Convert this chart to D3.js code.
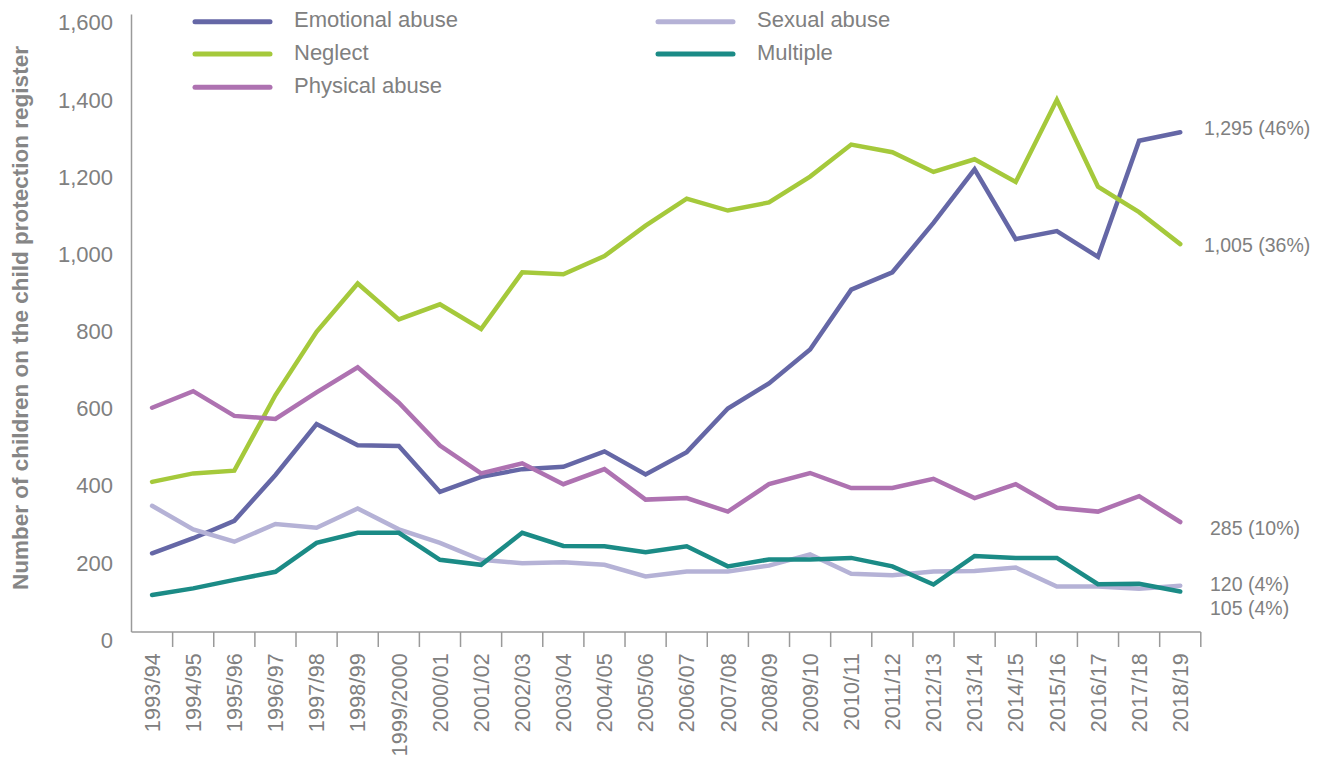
<!DOCTYPE html>
<html>
<head>
<meta charset="utf-8">
<script src="https://cdn.jsdelivr.net/npm/d3@7"></script>
<style>
  body { margin: 0; background: #fff; }
  svg { display: block; }
</style>
</head>
<body>
<div id="chart"></div>
<script>
const years = ["1993/94", "1994/95", "1995/96", "1996/97", "1997/98", "1998/99", "1999/2000",
  "2000/01", "2001/02", "2002/03", "2003/04", "2004/05", "2005/06", "2006/07", "2007/08",
  "2008/09", "2009/10", "2010/11", "2011/12", "2012/13", "2013/14", "2014/15", "2015/16",
  "2016/17", "2017/18", "2018/19"];

const emotional = [204, 243, 288, 407, 539, 484, 482, 363, 402, 422, 428, 468, 408, 466, 579,
  644, 732, 887, 932, 1060, 1199, 1018, 1039, 972, 1273, 1295];
const neglect = [389, 411, 418, 614, 778, 903, 810, 849, 785, 932, 927, 974, 1053, 1123, 1092,
  1113, 1180, 1263, 1243, 1192, 1225, 1166, 1379, 1154, 1088, 1005];
const physical = [581, 624, 560, 552, 621, 686, 594, 483, 411, 437, 383, 422, 343, 347, 312,
  383, 412, 373, 373, 397, 347, 383, 322, 312, 352, 285];
const sexual = [327, 266, 234, 280, 270, 320, 266, 231, 187, 178, 181, 174, 144, 157, 157,
  172, 201, 151, 147, 157, 158, 167, 118, 118, 112, 120];
const multiple = [96, 113, 135, 156, 231, 257, 257, 187, 174, 257, 223, 222, 207, 222, 170,
  188, 188, 192, 170, 123, 197, 192, 192, 124, 125, 105];

const seriesNames = ["Emotional abuse", "Neglect", "Physical abuse", "Sexual abuse", "Multiple"];
const seriesColors = ["#6567a6", "#a5c93b", "#ae72b1", "#b5b2d6", "#1b8b86"];
const endLabels = ["1,295 (46%)", "1,005 (36%)", "285 (10%)", "120 (4%)", "105 (4%)"];
const yTicks = [0, 200, 400, 600, 800, 1000, 1200, 1400, 1600];

const WIDTH = 1322;
const HEIGHT = 757;
const LEFT = 131.5, RIGHT = 1200.8, TOP = 14.5, BOTTOM = 632;
const GREY = "#808080";
const FONT = "'Liberation Sans', Arial, Helvetica, sans-serif";

const series = [emotional, neglect, physical, sexual, multiple];

var svg = d3.select("#chart")
  .append("svg")
  .attr("width", WIDTH)
  .attr("height", HEIGHT);

var x = d3.scaleBand().domain(years).range([LEFT, RIGHT]).padding(0),
    y = d3.scaleLinear().domain([0, 1600]).range([BOTTOM, TOP]);
var bw = x.bandwidth();

// y axis line
svg.append("line")
  .attr("x1", LEFT).attr("x2", LEFT)
  .attr("y1", y(1600)).attr("y2", y(0))
  .attr("stroke", "#9a9a9a").attr("stroke-width", 1.5);

// y tick labels (sit a little below their value, as in the original)
var yAxis = svg.append("g")
  .attr("transform", "translate(" + LEFT + ",0)")
  .call(d3.axisLeft(y).tickValues(yTicks).tickSize(0).tickPadding(18.5).tickFormat(d3.format(",")));
yAxis.select(".domain").remove();
yAxis.selectAll("text")
  .attr("dy", "0.72em")
  .attr("fill", GREY)
  .style("font-family", FONT)
  .style("font-size", "22px");
yAxis.selectAll("text").attr("y", 0).attr("transform", "translate(0,-0.5)");

// x axis line + boundary ticks
svg.append("line")
  .attr("x1", LEFT).attr("x2", RIGHT)
  .attr("y1", y(0)).attr("y2", y(0))
  .attr("stroke", "#9a9a9a").attr("stroke-width", 1.5);

svg.append("g")
  .selectAll("line")
  .data(years)
  .enter()
  .append("line")
  .attr("x1", d => x(d) + bw).attr("x2", d => x(d) + bw)
  .attr("y1", y(0)).attr("y2", y(0) + 15)
  .attr("stroke", "#9a9a9a").attr("stroke-width", 1.5);

// x labels
svg.append("g")
  .selectAll("text")
  .data(years)
  .enter()
  .append("text")
  .attr("transform", d => "translate(" + (x(d) + bw / 2) + "," + 653 + ") rotate(-90)")
  .attr("text-anchor", "end")
  .attr("dy", "0.36em")
  .attr("fill", GREY)
  .style("font-family", FONT)
  .style("font-size", "21.5px")
  .style("letter-spacing", "0.2px")
  .text(d => d);

// y title
svg.append("text")
  .attr("transform", "translate(28," + 318 + ") rotate(-90)")
  .attr("text-anchor", "middle")
  .attr("fill", "#868686")
  .style("font-family", FONT)
  .style("font-weight", "bold")
  .style("font-size", "22.5px")
  .text("Number of children on the child protection register");

// lines
var line = d3.line()
  .x((d, i) => x(years[i]) + bw / 2)
  .y(d => y(d));

svg.append("g")
  .selectAll("path")
  .data(series)
  .enter()
  .append("path")
  .attr("d", d => line(d))
  .attr("fill", "none")
  .attr("stroke", (d, i) => seriesColors[i])
  .attr("stroke-width", 4.5)
  .attr("stroke-linecap", "round");

// end value labels
const labelNudge = [-4, 1, 6, -2, 17];
svg.append("g")
  .selectAll("text")
  .data(series)
  .enter()
  .append("text")
  .attr("x", (d, i) => i === 0 || i === 1 ? 1204 : 1210)
  .attr("y", (d, i) => y(d[d.length - 1]) + labelNudge[i])
  .attr("dy", "0.35em")
  .attr("fill", GREY)
  .style("font-family", FONT)
  .style("font-size", "19.5px")
  .text((d, i) => endLabels[i]);

// legend
const legendPos = [[195, 21.7], [195, 54], [195, 87.3], [658, 21.7], [658, 54]];
var legend = svg.append("g")
  .selectAll("g")
  .data(seriesNames)
  .enter()
  .append("g")
  .attr("transform", (d, i) => "translate(" + legendPos[i][0] + "," + legendPos[i][1] + ")");

legend.append("line")
  .attr("x1", 0).attr("x2", 75)
  .attr("stroke", (d, i) => seriesColors[i])
  .attr("stroke-width", 5)
  .attr("stroke-linecap", "round");

legend.append("text")
  .attr("x", 99)
  .attr("y", 5.5)
  .attr("fill", GREY)
  .style("font-family", FONT)
  .style("font-size", "22px")
  .text(d => d);
</script>
</body>
</html>
